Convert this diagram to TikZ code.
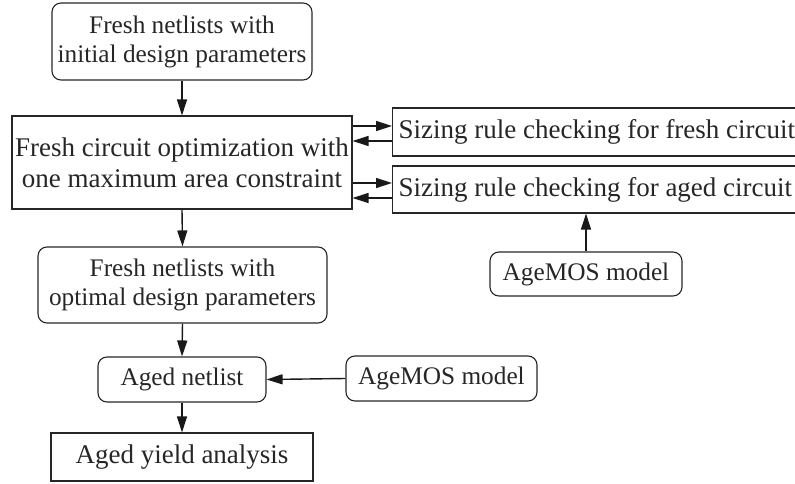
\documentclass[tikz,border=0pt]{standalone}
\usepackage{fontspec}
\setmainfont{Liberation Serif}
\usetikzlibrary{arrows.meta}
\begin{document}
\begin{tikzpicture}[x=1pt,y=-1pt,
  font=\fontsize{25.3}{29}\selectfont,
  big/.style={font=\fontsize{27}{31}\selectfont},
  base/.style={draw=black!85, line width=1.1pt, inner sep=0pt, align=center, text=black!85},
  rbox/.style={base, rounded corners=9pt},
  sbox/.style={base},
  lbox/.style={draw=black!85, line width=1.1pt, inner xsep=6pt, inner ysep=0pt, anchor=west, text=black!85, big},
  arr/.style={draw=black!90, line width=1.4pt, -{Triangle[length=16pt,width=10pt]}}]
\useasboundingbox (0,0) rectangle (795,484);
\clip (0,0) rectangle (795,484);
\node[rbox, minimum width=260pt, minimum height=77pt] (b1) at (182,41.5)
  {Fresh netlists with\\initial design parameters};
\node[sbox, big, minimum width=340pt, minimum height=93pt] (b2) at (182,162.5)
  {Fresh circuit optimization with\\one maximum area constraint};
\node[lbox, minimum height=48pt] (b3) at (392,132) {Sizing rule checking for fresh circuit};
\node[lbox, minimum height=47pt] (b4) at (392,189.5) {Sizing rule checking for aged circuit};
\node[rbox, minimum width=192pt, minimum height=44pt] (m1) at (586,274) {AgeMOS model};
\node[rbox, minimum width=289pt, minimum height=76pt] (b5) at (182.5,285)
  {Fresh netlists with\\optimal design parameters};
\node[rbox, minimum width=168pt, minimum height=45pt] (b6) at (182,379.5) {Aged netlist};
\node[rbox, minimum width=191pt, minimum height=45pt] (m2) at (441.5,378.5) {AgeMOS model};
\node[sbox, big, minimum width=262pt, minimum height=48pt] (b7) at (182,457) {Aged yield analysis};

\draw[arr] (b1.south) -- (b2.north);
\draw[arr] (b2.south) -- (b5.north);
\draw[arr] (b5.south) -- (b6.north);
\draw[arr] (b6.south) -- (b7.north);
\draw[arr] (m2.west) -- (b6.east);
\draw[arr] (m1.north) -- (m1.north |- b4.south);
\draw[arr] (b2.east |- 0,126) -- (b3.west |- 0,126);
\draw[arr] (b3.west |- 0,141) -- (b2.east |- 0,141);
\draw[arr] (b2.east |- 0,183) -- (b4.west |- 0,183);
\draw[arr] (b4.west |- 0,198) -- (b2.east |- 0,198);
\end{tikzpicture}
\end{document}
